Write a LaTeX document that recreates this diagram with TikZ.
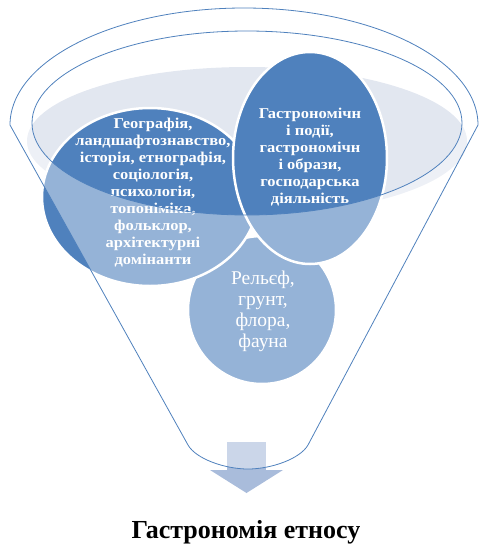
\documentclass[tikz,border=0pt]{standalone}
\usepackage{fontspec}
\setmainfont{Liberation Serif}
\definecolor{accent}{HTML}{4F81BD}
\definecolor{liquid}{HTML}{E2E7F0}
\definecolor{arrowc}{HTML}{A9BCDB}
\begin{document}
\begin{tikzpicture}[x=1pt,y=1pt,
  blob/.style={fill=accent,draw=white,line width=2.5pt},
  btext/.style={text=white,align=center,font=\bfseries\fontsize{15}{17}\selectfont,xscale=1.1},
  rtext/.style={text=white,align=center,font=\fontsize{19.5}{21}\selectfont},
  funnelline/.style={draw=accent,line width=0.8pt}]
\useasboundingbox (0,0) rectangle (481,-547);
% liquid surface
\fill[liquid] (247,-141) ellipse [x radius=220,y radius=74];
% arrow
\fill[arrowc] (227,-442) rectangle (266,-470);
\fill[arrowc] (210,-470) -- (283,-470) -- (246.5,-493) -- cycle;
% blobs
\path[blob] (262,-310) circle [radius=74];
\node[rtext] (c3) at (263,-311) {Рельєф,\\грунт,\\флора,\\фауна};
\path[blob] (150,-197) ellipse [x radius=108,y radius=89];
\node[btext] (c1) at (153,-193) {Географія,\\ландшафтознавство,\\історія, етнографія,\\соціологія,\\психологія,\\топоніміка,\\фольклор,\\архітектурні\\домінанти};
\path[blob] (310,-158) ellipse [x radius=77,y radius=106];
\node[btext] (c2) at (310,-157) {Гастрономічн\\і події,\\гастрономічн\\і образи,\\господарська\\діяльність};
% funnel front overlay
\fill[white,fill opacity=0.4,even odd rule]
  (10,-125) -- (188,-445) .. controls (196,-459) and (225,-469) .. (248,-469)
  .. controls (271,-469) and (300,-459) .. (308,-445) -- (478,-125)
  arc[start angle=0,end angle=180,x radius=234,y radius=117] -- cycle
  (247,-123) ellipse [x radius=215,y radius=92];
% funnel outline
\draw[funnelline]
  (10,-125) -- (188,-445) .. controls (196,-459) and (225,-469) .. (248,-469)
  .. controls (271,-469) and (300,-459) .. (308,-445) -- (478,-125)
  arc[start angle=0,end angle=180,x radius=234,y radius=117] -- cycle;
\draw[funnelline] (247,-123) ellipse [x radius=215,y radius=92];
% title
\node[font=\bfseries\fontsize{26}{28}\selectfont] (title) at (246,-532) {Гастрономія етносу};
\end{tikzpicture}
\end{document}
